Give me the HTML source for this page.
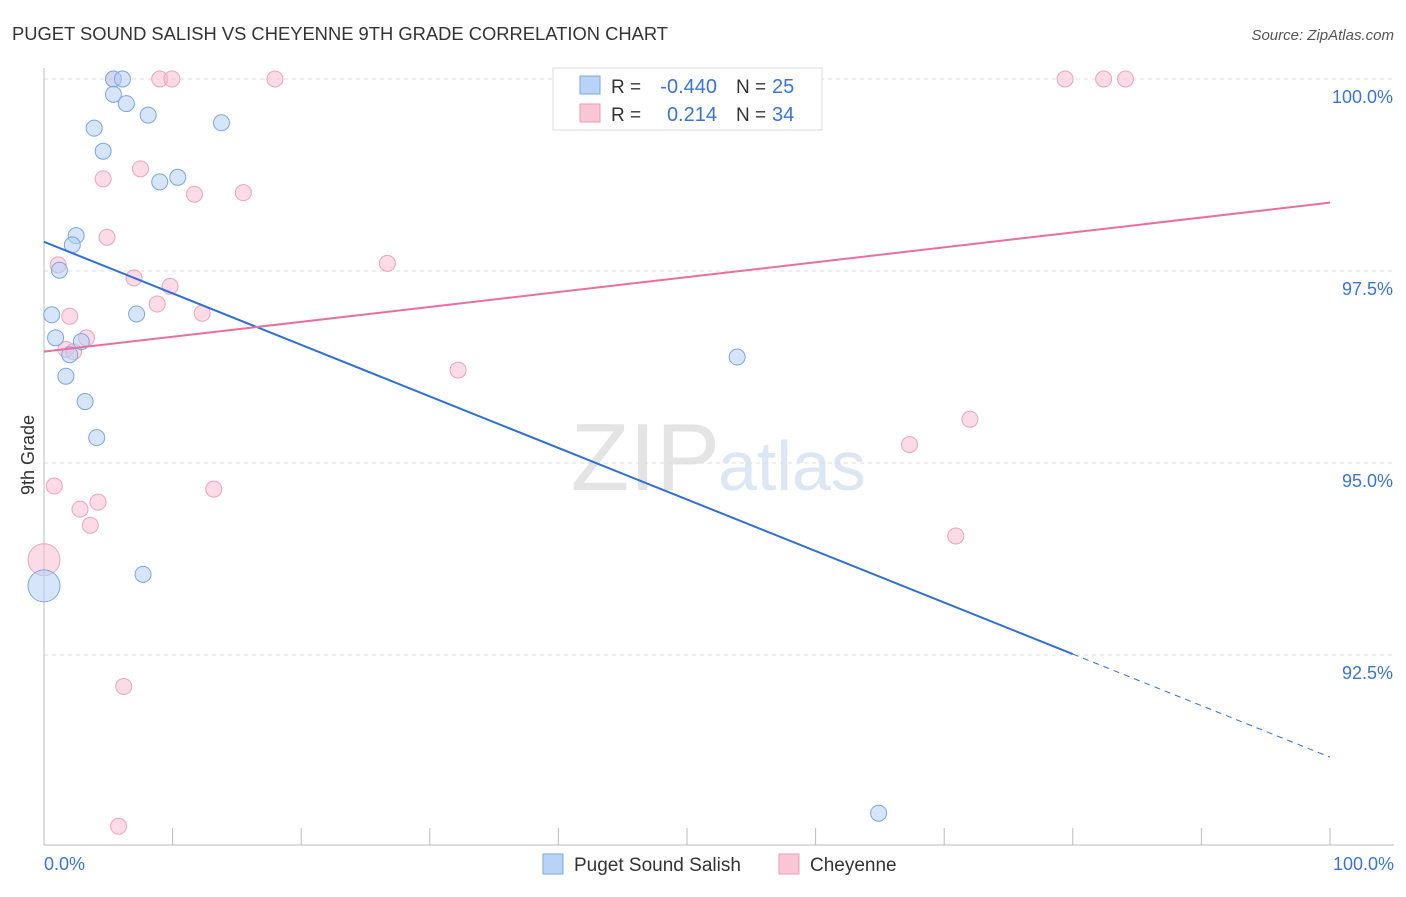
<!DOCTYPE html>
<html><head><meta charset="utf-8"><style>
body{margin:0;background:#fff;font-family:"Liberation Sans",sans-serif;}
svg text{font-family:"Liberation Sans",sans-serif;}
</style></head><body>
<svg id="chart" width="1406" height="892">
<text x="12" y="40" font-size="18" fill="#333" textLength="656" lengthAdjust="spacingAndGlyphs">PUGET SOUND SALISH VS CHEYENNE 9TH GRADE CORRELATION CHART</text>
<text x="1394" y="40" font-size="15" fill="#555" font-style="italic" text-anchor="end">Source: ZipAtlas.com</text>
<text x="720" y="490" font-size="96" fill="#e4e4e4" text-anchor="end" font-family="Liberation Serif">ZIP</text>
<text x="718" y="490" font-size="70" fill="#dde6f3">atlas</text>
<text transform="translate(34,455) rotate(-90)" font-size="18" fill="#333" text-anchor="middle">9th Grade</text>
<g id="grid"></g><g id="axes"></g><g id="marks"></g>
<g>
<rect x="553" y="68" width="269" height="62" fill="#fff" stroke="#ddd"/>
<rect x="580" y="76" width="20" height="18" fill="#b8d3f5" stroke="#7aa8e6"/>
<rect x="580" y="104" width="20" height="18" fill="#f9c6d5" stroke="#ee9ab5"/>
<text x="611" y="93" font-size="19" fill="#333">R =</text>
<text x="717" y="93" font-size="20" fill="#3b74d0" text-anchor="end">-0.440</text>
<text x="736" y="93" font-size="19" fill="#333">N =</text>
<text x="772" y="93" font-size="20" fill="#3b74d0">25</text>
<text x="611" y="121" font-size="19" fill="#333">R =</text>
<text x="717" y="121" font-size="20" fill="#3b74d0" text-anchor="end">0.214</text>
<text x="736" y="121" font-size="19" fill="#333">N =</text>
<text x="772" y="121" font-size="20" fill="#3b74d0">34</text>
</g>
<g>
<rect x="543" y="854" width="20" height="20" fill="#b8d3f5" stroke="#7aa8e6"/>
<text x="574" y="871" font-size="19" fill="#333">Puget Sound Salish</text>
<rect x="779" y="854" width="20" height="20" fill="#f9c6d5" stroke="#ee9ab5"/>
<text x="810" y="871" font-size="19" fill="#333">Cheyenne</text>
</g>
</svg>
<script>
const yTicks=[100,97.5,95,92.5];
const yTickLabels=["100.0%","97.5%","95.0%","92.5%"];
const xEndLabels=["0.0%","100.0%"];
const blueX=[5.4,6.1,5.4,6.4,8.1,3.9,13.8,4.6,10.4,9.0,2.5,2.2,1.2,0.6,7.2,0.9,2.9,2.0,1.7,3.2,4.1,7.7,0,53.9,64.9];
const blueY=[100,100,99.8,99.68,99.53,99.36,99.43,99.06,98.72,98.66,97.96,97.84,97.51,96.93,96.94,96.63,96.58,96.41,96.13,95.8,95.33,93.55,93.4,96.38,90.44];
const pinkX=[5.4,9.0,9.95,17.96,79.4,82.4,84.1,7.5,4.6,11.7,15.5,4.9,1.1,26.7,7.0,9.8,8.8,2.0,12.3,3.3,1.7,2.3,32.2,72.0,67.3,0.8,13.2,4.2,2.8,3.6,70.9,0,6.2,5.8];
const pinkY=[100,100,100,100,100,100,100,98.83,98.7,98.5,98.52,97.94,97.58,97.6,97.41,97.3,97.07,96.91,96.95,96.63,96.48,96.45,96.21,95.57,95.24,94.7,94.66,94.49,94.4,94.19,94.05,93.74,92.09,90.27];
const blueSize=[8,8,8,8,8,8,8,8,8,8,8,8,8,8,8,8,8,8,8,8,8,8,16,8,8];
const pinkSize=[8,8,8,8,8,8,8,8,8,8,8,8,8,8,8,8,8,8,8,8,8,8,8,8,8,8,8,8,8,8,8,16,8,8];
const blueTrend=[97.88,91.17];
const pinkTrend=[96.45,98.39];
const blueSolidEnd=80;
const NS="http://www.w3.org/2000/svg";
const X=v=>44+v*12.86;
const Y=v=>79+(100-v)*76.8;
function mk(tag,attrs,parent){const e=document.createElementNS(NS,tag);for(const k in attrs)e.setAttribute(k,attrs[k]);document.getElementById(parent).appendChild(e);return e;}
yTicks.forEach((t,i)=>{
 const l=mk('line',{x1:44,x2:1394,y1:Y(t),y2:Y(t),stroke:'#ddd','stroke-dasharray':'4,4'},'grid');
 
 
 const tx=mk('text',{x:1393,y:Y(t)+24,'font-size':18,fill:'#3b74d0','text-anchor':'end'},'axes');
 tx.textContent=yTickLabels[i];
 
 
});
const ya=mk('line',{x1:44,x2:44,y1:68,y2:845,stroke:'#bbb'},'axes');


const xa=mk('line',{x1:44,x2:1394,y1:845,y2:845,stroke:'#bbb'},'axes');


for(let i=0;i<=10;i++){
 const t=mk('line',{x1:X(i*10),x2:X(i*10),y1:828,y2:845,stroke:'#bbb'},'axes');
 
 
}
const xl0=mk('text',{x:44,y:870,'font-size':18,fill:'#3b74d0'},'axes');xl0.textContent=xEndLabels[0];


const xl1=mk('text',{x:1394,y:870,'font-size':18,fill:'#3b74d0','text-anchor':'end'},'axes');xl1.textContent=xEndLabels[1];


pinkX.forEach((x,i)=>{
 const c=mk('circle',{cx:X(x),cy:Y(pinkY[i]),r:pinkSize[i],fill:'rgba(248,190,208,0.55)',stroke:'#eea4bd','stroke-width':1},'marks');
 
 
});
blueX.forEach((x,i)=>{
 const c=mk('circle',{cx:X(x),cy:Y(blueY[i]),r:blueSize[i],fill:'rgba(180,208,245,0.55)',stroke:'#7aa6e3','stroke-width':1},'marks');
 
 
});
const bAt=x=>blueTrend[0]+(blueTrend[1]-blueTrend[0])*x/100;
const bl=mk('line',{x1:X(0),y1:Y(bAt(0)),x2:X(blueSolidEnd),y2:Y(bAt(blueSolidEnd)),stroke:'#2f6fd6','stroke-width':2},'marks');


const bd=mk('line',{x1:X(blueSolidEnd),y1:Y(bAt(blueSolidEnd)),x2:X(100),y2:Y(bAt(100)),stroke:'#2f6fd6','stroke-width':1,'stroke-dasharray':'6,5'},'marks');


const pl=mk('line',{x1:X(0),y1:Y(pinkTrend[0]),x2:X(100),y2:Y(pinkTrend[1]),stroke:'#e8709a','stroke-width':2},'marks');


</script>
</body></html>
